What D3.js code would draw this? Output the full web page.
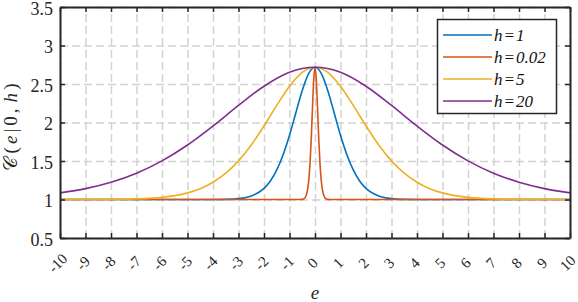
<!DOCTYPE html>
<html>
<head>
<meta charset="utf-8">
<script src="https://cdn.jsdelivr.net/npm/d3@7"></script>
<style>
  body { margin: 0; background: #fff; }
  svg { display: block; }
</style>
</head>
<body>
<div id="chart-container"></div>
<script>
// values
const xTicks = [-10, -9, -8, -7, -6, -5, -4, -3, -2, -1, 0, 1, 2, 3, 4, 5, 6, 7, 8, 9, 10]
const yTicks = [0.5, 1, 1.5, 2, 2.5, 3, 3.5]

const legendLabels = ['1', '0.02', '5', '20']

// h = 1
const eH1 = [-10, -4, -3.5, -3, -2.5, -2, -1.75, -1.5, -1.25, -1, -0.75, -0.5, -0.25, 0,
    0.25, 0.5, 0.75, 1, 1.25, 1.5, 1.75, 2, 2.5, 3, 3.5, 4, 10]
const cH1 = [1, 1, 1.002, 1.011, 1.045, 1.145, 1.241, 1.384, 1.581, 1.834, 2.127, 2.417, 2.636, 2.718,
    2.636, 2.417, 2.127, 1.834, 1.581, 1.384, 1.241, 1.145, 1.045, 1.011, 1.002, 1, 1]

// h = 0.02
const eH002 = [-10, -0.6, -0.5, -0.4, -0.35, -0.3, -0.25, -0.2, -0.15, -0.1, -0.05, 0,
    0.05, 0.1, 0.15, 0.2, 0.25, 0.3, 0.35, 0.4, 0.5, 0.6, 10]
const cH002 = [1, 1, 1.002, 1.018, 1.048, 1.111, 1.233, 1.445, 1.768, 2.179, 2.558, 2.718,
    2.558, 2.179, 1.768, 1.445, 1.233, 1.111, 1.048, 1.018, 1.002, 1, 1]

// h = 5
const eH5 = [-10, -9, -8, -7, -6, -5.5, -5, -4.5, -4, -3.5, -3, -2.5, -2, -1.5, -1, -0.5, 0,
    0.5, 1, 1.5, 2, 2.5, 3, 3.5, 4, 4.5, 5, 5.5, 6, 7, 8, 9, 10]
const cH5 = [1, 1, 1.002, 1.008, 1.028, 1.05, 1.086, 1.141, 1.224, 1.342, 1.502, 1.708, 1.955, 2.222, 2.471, 2.652, 2.718,
    2.652, 2.471, 2.222, 1.955, 1.708, 1.502, 1.342, 1.224, 1.141, 1.086, 1.05, 1.028, 1.008, 1.002, 1, 1]

// h = 20
const eH20 = [-10, -9, -8, -7, -6, -5, -4, -3, -2, -1, -0.5, 0, 0.5, 1, 2, 3, 4, 5, 6, 7, 8, 9, 10]
const cH20 = [1.086, 1.141, 1.224, 1.342, 1.502, 1.708, 1.955, 2.222, 2.471, 2.652, 2.701, 2.718,
    2.701, 2.652, 2.471, 2.222, 1.955, 1.708, 1.502, 1.342, 1.224, 1.141, 1.086]

const lineColors = ['#0072BD', '#D95319', '#EDB120', '#7E2F8E']
const FONT = 'Liberation Serif, DejaVu Serif, serif'

class CurvePlotter {
    constructor(options) {
        this.width = options.width
        this.height = options.height
        this.margin = options.margin
        this.innerW = this.width - this.margin.left - this.margin.right
        this.innerH = this.height - this.margin.top - this.margin.bottom

        this.series = [
            { e: eH1, c: cH1 },
            { e: eH002, c: cH002 },
            { e: eH5, c: cH5 },
            { e: eH20, c: cH20 }
        ]

        this.x = d3.scaleLinear().domain([-10, 10]).range([0, this.innerW])
        this.y = d3.scaleLinear().domain([0.5, 3.5]).range([this.innerH, 0])

        this.svg = d3.select('#chart-container')
            .append('svg')
            .attr('width', this.width)
            .attr('height', this.height)
            .attr('font-family', FONT)
        this.g = this.svg.append('g')
            .attr('transform', 'translate(' + this.margin.left + ',' + this.margin.top + ')')
    }

    plot() {
        this.#drawGrid()
        this.#drawLines()
        this.#drawAxes()
        this.#drawLabels()
        this.#drawLegend()
    }

    #drawGrid() {
        const gridColor = '#d2d2d2'
        let gx = this.g.append('g')
            .attr('transform', 'translate(0,' + this.innerH + ')')
            .call(d3.axisBottom(this.x).tickValues(xTicks).tickSize(-this.innerH).tickFormat(''))
        let gy = this.g.append('g')
            .call(d3.axisLeft(this.y).tickValues(yTicks).tickSize(-this.innerW).tickFormat(''))
        for (let grid of [gx, gy]) {
            grid.select('.domain').remove()
            grid.selectAll('line')
                .attr('stroke', gridColor)
                .attr('stroke-width', 1.5)
                .attr('stroke-dasharray', '8,4')
        }
    }

    #drawLines() {
        const line = d3.line()
            .x(d => this.x(d[0]))
            .y(d => this.y(d[1]))
            .curve(d3.curveMonotoneX)

        this.series.forEach((s, i) => {
            const pts = s.e.map((v, k) => [v, s.c[k]])
            this.g.append('path')
                .datum(pts)
                .attr('d', line)
                .attr('fill', 'none')
                .attr('stroke', lineColors[i])
                .attr('stroke-width', 1.6)
        })
    }

    #drawAxes() {
        const axisColor = '#262626'
        let bottom = this.g.append('g')
            .attr('transform', 'translate(0,' + this.innerH + ')')
            .call(d3.axisBottom(this.x).tickValues(xTicks).tickSize(-5).tickSizeOuter(0).tickFormat(d => String(d)))
        let top = this.g.append('g')
            .call(d3.axisTop(this.x).tickValues(xTicks).tickSize(-5).tickSizeOuter(0).tickFormat(''))
        let left = this.g.append('g')
            .call(d3.axisLeft(this.y).tickValues(yTicks).tickSize(-5).tickSizeOuter(0).tickFormat(d => String(d)))
        let right = this.g.append('g')
            .attr('transform', 'translate(' + this.innerW + ',0)')
            .call(d3.axisRight(this.y).tickValues(yTicks).tickSize(-5).tickSizeOuter(0).tickFormat(''))

        for (let a of [bottom, top, left, right]) {
            a.attr('font-family', FONT)
            a.select('.domain').attr('stroke', axisColor).attr('stroke-width', 2)
            a.selectAll('.tick line').attr('stroke', axisColor).attr('stroke-width', 1.5)
        }

        bottom.selectAll('.tick text')
            .attr('fill', '#262626')
            .attr('font-size', 15)
            .attr('y', 0)
            .attr('dy', '0.35em')
            .attr('text-anchor', 'middle')
            .attr('transform', 'translate(-3,25) rotate(-45)')

        left.selectAll('.tick text')
            .attr('fill', '#262626')
            .attr('font-size', 18)
            .attr('x', -7)
            .attr('dy', '0.4em')
    }

    #drawLabels() {
        // x label
        this.svg.append('text')
            .attr('x', this.margin.left + this.x(0))
            .attr('y', 299)
            .attr('text-anchor', 'middle')
            .attr('font-size', 19)
            .attr('font-style', 'italic')
            .attr('fill', '#262626')
            .text('e')

        // y label
        let yl = this.svg.append('text')
            .attr('transform', 'translate(17,' + 127 + ') rotate(-90)')
            .attr('text-anchor', 'middle')
            .attr('font-size', 19)
            .attr('fill', '#262626')
            .attr('textLength', 87)
            .attr('lengthAdjust', 'spacing')
        yl.append('tspan').text('𝒞')
        yl.append('tspan').text('(')
        yl.append('tspan').attr('font-style', 'italic').text('e')
        yl.append('tspan').text('|0,')
        yl.append('tspan').attr('font-style', 'italic').attr('dx', 3).text('h')
        yl.append('tspan').text(')')
    }

    #drawLegend() {
        let legend = this.svg.append('g').attr('id', 'legend')
        legend.append('rect')
            .attr('x', 437.5)
            .attr('y', 19.5)
            .attr('width', 119)
            .attr('height', 94)
            .attr('fill', '#fff')
            .attr('stroke', '#262626')
            .attr('stroke-width', 1.5)

        legendLabels.forEach((lab, i) => {
            let rowY = 35 + i * 22
            legend.append('line')
                .attr('x1', 443).attr('x2', 492)
                .attr('y1', rowY).attr('y2', rowY)
                .attr('stroke', lineColors[i])
                .attr('stroke-width', 1.6)
            let t = legend.append('text')
                .attr('x', 494)
                .attr('y', rowY)
                .attr('dy', '0.35em')
                .attr('font-size', 17)
                .attr('font-style', 'italic')
                .attr('fill', '#111')
            t.append('tspan').text('h')
            t.append('tspan').attr('dx', 1).text('=')
            t.append('tspan').attr('dx', 1).text(lab)
        })
    }
}

const plotter = new CurvePlotter({
    width: 578,
    height: 302,
    margin: { top: 7, right: 8, bottom: 64, left: 60 }
})
plotter.plot()
</script>
</body>
</html>
